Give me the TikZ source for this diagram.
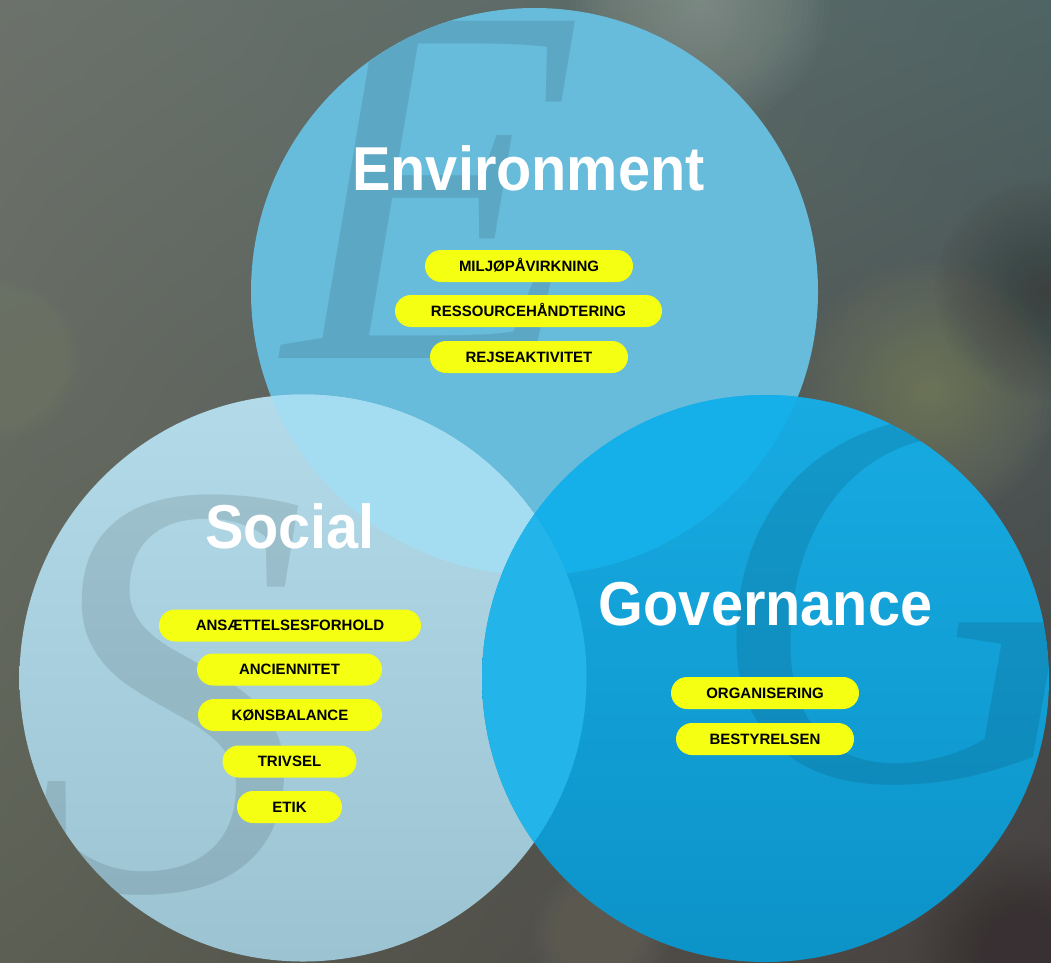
\documentclass[tikz,border=0pt]{standalone}
\usepackage{fontspec}
\usepackage{graphicx}
\usetikzlibrary{shadings}
\setmainfont{Liberation Sans}
\newfontfamily\bigserif{Liberation Serif}
\definecolor{bgUL}{HTML}{6C726B}
\definecolor{bgUR}{HTML}{4F6464}
\definecolor{bgLL}{HTML}{5C6054}
\definecolor{bgLR}{HTML}{463F3E}
\definecolor{blobA}{HTML}{A3AEA6}
\definecolor{blobB}{HTML}{8E9472}
\definecolor{blobC}{HTML}{3C3D3B}
\definecolor{blobD}{HTML}{858C78}
\definecolor{blobE}{HTML}{7A776E}
\definecolor{blobF}{HTML}{383033}
\definecolor{envcol}{HTML}{67BBDB}
\definecolor{soctop}{HTML}{B2DAE8}
\definecolor{socbot}{HTML}{9BC3D1}
\definecolor{envsoc}{HTML}{A4DDF2}
\definecolor{govtop}{HTML}{17ABE2}
\definecolor{govbot}{HTML}{0C93C8}
\definecolor{envgov}{HTML}{15B0E9}
\definecolor{socgov}{HTML}{23B4EA}
\definecolor{pillyellow}{HTML}{F4FF12}
\newcommand\envpath{(534.5,291.5) circle[radius=283.5pt]}
\newcommand\socpath{(303,678) circle[radius=283.5pt]}
\newcommand\govpath{(765.5,678.5) circle[radius=283.5pt]}
\newcommand\blob[4]{\foreach \k in {1,...,24}{\fill[#3, opacity=#4] (#1) circle[radius={#2pt*\k/24}];}}
\tikzset{
  pill/.style={fill=pillyellow, rounded corners=16pt, minimum height=32pt, inner sep=0pt,
    text height=10.7pt, text depth=0pt, text=black,
    font=\fontsize{15}{15}\selectfont\bfseries},
  titletext/.style={anchor=base, inner sep=0pt, text=white,
    font=\fontsize{62}{62}\selectfont\bfseries},
  ghost/.style={anchor=base west, inner sep=0pt, text=black, text opacity=0.1}
}
\begin{document}
\begin{tikzpicture}[x=1pt,y=-1pt]
\useasboundingbox (0,0) rectangle (1051,962);
% background
\shade[upper left=bgUL, upper right=bgUR, lower left=bgLL, lower right=bgLR] (0,0) rectangle (1051,962);
\blob{700,0}{130}{blobA}{0.035}
\blob{930,390}{130}{blobB}{0.035}
\blob{1045,290}{110}{blobC}{0.035}
\blob{0,360}{80}{blobD}{0.035}
\blob{600,935}{70}{blobE}{0.03}
\blob{1020,950}{110}{blobF}{0.035}
% circles
\fill[envcol] \envpath;
\shade[top color=soctop, bottom color=socbot] \socpath;
\begin{scope}
  \clip \socpath;
  \fill[envsoc] \envpath;
\end{scope}
\shade[top color=govtop, bottom color=govbot] \govpath;
\begin{scope}
  \clip \govpath;
  \fill[envgov] \envpath;
  \fill[socgov] \socpath;
\end{scope}
% ghost letters
\begin{scope}
  \clip \envpath;
  \node[ghost, font=\bigserif\itshape\fontsize{515}{515}\selectfont] (bigE) at (284,358) {\scalebox{0.95}[1]{E}};
\end{scope}
\begin{scope}
  \clip \socpath;
  \node[ghost, font=\bigserif\itshape\fontsize{596}{596}\selectfont] (bigS) at (27,889) {\scalebox{0.94}[1]{S}};
\end{scope}
\begin{scope}
  \clip \govpath;
  \node[ghost, font=\bigserif\itshape\fontsize{551}{551}\selectfont] (bigG) at (706,780) {G};
\end{scope}
% titles
\node[titletext] (tEnv) at (528.5,190) {\scalebox{0.93}[1]{Environment}};
\node[titletext] (tSoc) at (290,548) {\scalebox{0.93}[1]{Social}};
\node[titletext] (tGov) at (765.5,625) {\scalebox{0.93}[1]{Governance}};
% environment pills
\node[pill, minimum width=208pt] (e1) at (529,266) {MILJØPÅVIRKNING};
\node[pill, minimum width=267pt] (e2) at (528.5,311) {RESSOURCEHÅNDTERING};
\node[pill, minimum width=198pt] (e3) at (529,357) {REJSEAKTIVITET};
% social pills
\node[pill, minimum width=262pt] (s1) at (290,625.5) {ANSÆTTELSESFORHOLD};
\node[pill, minimum width=185pt] (s2) at (289.5,669.5) {ANCIENNITET};
\node[pill, minimum width=184pt] (s3) at (290,715) {KØNSBALANCE};
\node[pill, minimum width=134pt] (s4) at (289.5,761.5) {TRIVSEL};
\node[pill, minimum width=105pt] (s5) at (289.5,807) {ETIK};
% governance pills
\node[pill, minimum width=188pt] (g1) at (765,693) {ORGANISERING};
\node[pill, minimum width=178pt] (g2) at (765,739) {BESTYRELSEN};
\end{tikzpicture}
\end{document}
